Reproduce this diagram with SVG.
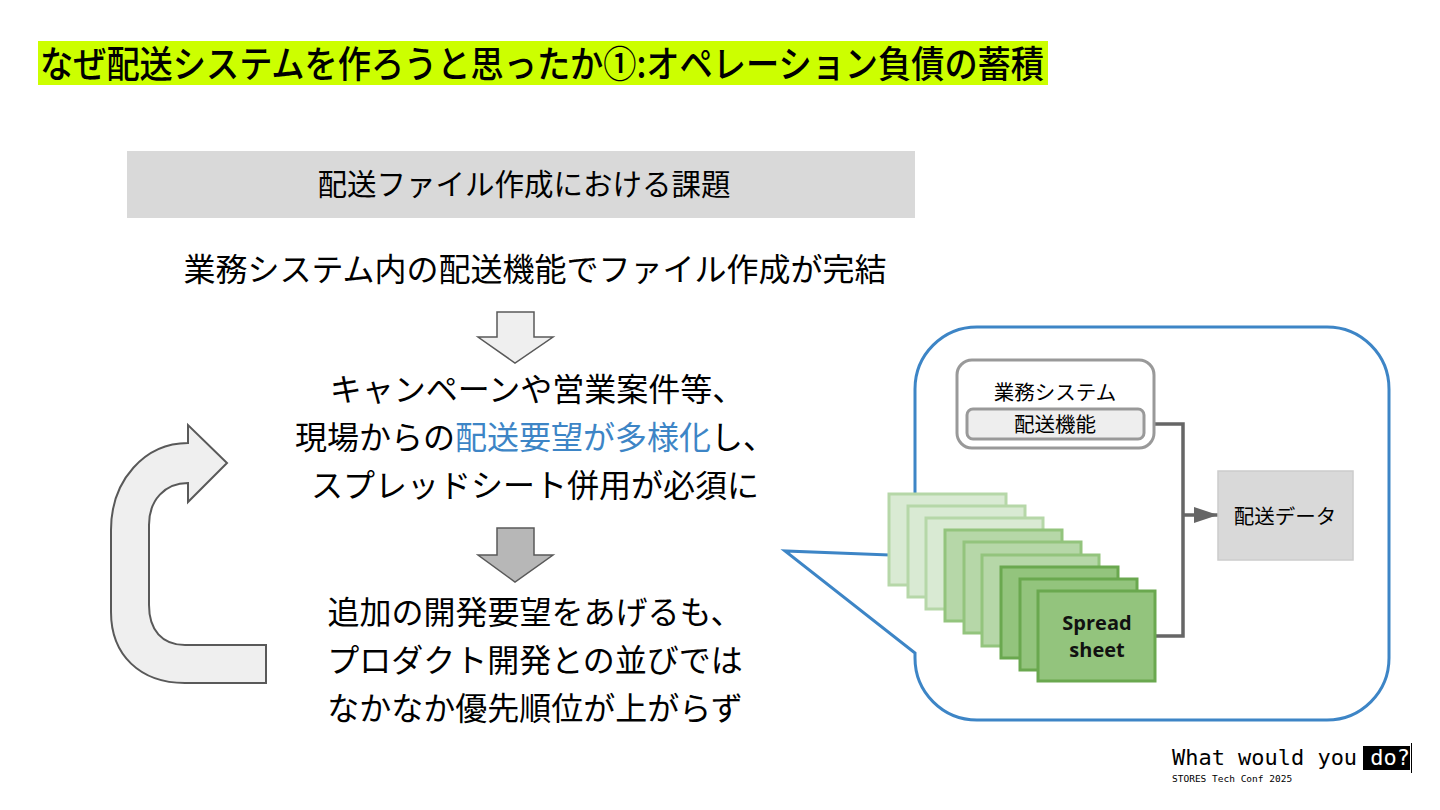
<svg xmlns="http://www.w3.org/2000/svg" width="1440" height="810" viewBox="0 0 1440 810">
<style>
.jp{font-family:"Noto Sans CJK JP","Noto Sans",sans-serif;fill:#000}
.big{font-size:32px;text-anchor:middle}
.sm{font-size:20.5px;text-anchor:middle}
.sheet1{fill:#d9ead3;stroke:#b6d7a8;stroke-width:3}
.sheet2{fill:#b6d7a8;stroke:#93c47d;stroke-width:3}
.sheet3{fill:#93c47d;stroke:#6aa84f;stroke-width:3}
.conn{fill:none;stroke:#666;stroke-width:3.5}
.mono{font-family:"DejaVu Sans Mono","Liberation Mono",monospace}
</style>
<defs>
<marker id="ah" viewBox="0 0 24 16" refX="24" refY="8" markerWidth="24" markerHeight="16" markerUnits="userSpaceOnUse" orient="auto">
<path d="M0,0 L24,8 L0,16 Z" fill="#666"/>
</marker>
</defs>
<rect width="1440" height="810" fill="#fff"/>

<g id="title">
<rect x="38" y="41" width="1010" height="44" fill="#ccff00"/>
<text class="jp" x="40" y="78" font-size="37" font-weight="500" textLength="1004" lengthAdjust="spacingAndGlyphs">なぜ配送システムを作ろうと思ったか①:オペレーション負債の蓄積</text>
</g>

<g id="header">
<rect x="127" y="151" width="788" height="67" fill="#d9d9d9"/>
<text class="jp" x="524" y="195" font-size="29.5" text-anchor="middle">配送ファイル作成における課題</text>
</g>

<g id="line1">
<text class="jp big" x="535" y="281">業務システム内の配送機能でファイル作成が完結</text>
</g>

<g id="arrow1">
<path d="M497,312 L534,312 L534,337 L553,337 L515,363 L478,337 L497,337 Z" fill="#efefef" stroke="#595959" stroke-width="1.5"/>
</g>

<g id="block2">
<text class="jp big" x="537" y="401">キャンペーンや営業案件等、</text>
<text class="jp big" x="535" y="449">現場からの<tspan fill="#3d85c6">配送要望が多様化</tspan>し、</text>
<text class="jp big" x="535" y="497">スプレッドシート併用が必須に</text>
</g>

<g id="arrow2">
<path d="M497,528 L534,528 L534,555 L553,555 L515,582 L478,555 L497,555 Z" fill="#b7b7b7" stroke="#595959" stroke-width="1.5"/>
</g>

<g id="block3">
<text class="jp big" x="535" y="624">追加の開発要望をあげるも、</text>
<text class="jp big" x="535" y="672">プロダクト開発との並びでは</text>
<text class="jp big" x="535" y="720">なかなか優先順位が上がらず</text>
</g>

<g id="loop-arrow">
<path d="M266,645 L266,683 L185,683 C140,683 111,655 111,612 L111,530 C111,480 145,443 188,443 L188,425 L227,463 L188,502 L188,483 C165,483 149,500 149,525 L149,605 C149,630 162,645 185,645 Z" fill="#efefef" stroke="#595959" stroke-width="2"/>
</g>

<g id="callout">
<path d="M977,327 L1327,327 A62,62 0 0 1 1389,389 L1389,658 A62,62 0 0 1 1327,720 L977,720 A62,62 0 0 1 915,658 L915,653 L785,551 L915,556 L915,389 A62,62 0 0 1 977,327 Z" fill="#fff" stroke="#3d85c6" stroke-width="3"/>
</g>

<g id="connectors">
<path class="conn" d="M1144,424 L1183,424 L1183,636 L1155,636"/>
<path class="conn" d="M1183,515 L1218,515" marker-end="url(#ah)"/>
</g>

<g id="system">
<rect x="957" y="360" width="197" height="88" rx="15" fill="#fff" stroke="#999" stroke-width="3"/>
<text class="jp sm" x="1055" y="400">業務システム</text>
</g>
<g id="haiso-kino">
<rect x="967" y="409" width="177" height="30" rx="6" fill="#eee" stroke="#999" stroke-width="3"/>
<text class="jp sm" x="1055" y="432">配送機能</text>
</g>

<g id="haiso-data">
<rect x="1218" y="471" width="135" height="89" fill="#d9d9d9" stroke="#ccc" stroke-width="1.5"/>
<text class="jp sm" x="1285" y="524">配送データ</text>
</g>

<g id="sheets">
<rect class="sheet1" x="889" y="494" width="117" height="91"/>
<rect class="sheet1" x="908" y="506" width="117" height="91"/>
<rect class="sheet1" x="926" y="518" width="117" height="91"/>
<rect class="sheet2" x="945" y="530" width="117" height="91"/>
<rect class="sheet2" x="964" y="542" width="117" height="91"/>
<rect class="sheet2" x="982" y="555" width="117" height="91"/>
<rect class="sheet3" x="1001" y="567" width="117" height="91"/>
<rect class="sheet3" x="1020" y="579" width="117" height="91"/>
<rect class="sheet3" x="1038" y="591" width="117" height="90"/>
<text font-family="'Open Sans','Noto Sans',sans-serif" font-weight="bold" font-size="20" text-anchor="middle" fill="#111"><tspan x="1097" y="630">Spread</tspan><tspan x="1097" y="657">sheet</tspan></text>
</g>

<g id="footer">
<rect x="1363" y="746" width="47" height="24" fill="#000"/>
<text class="mono" x="1172" y="765" font-size="22" fill="#000" textLength="238" lengthAdjust="spacingAndGlyphs">What would you <tspan fill="#fff">do?</tspan></text>
<line x1="1411.5" y1="743" x2="1411.5" y2="773" stroke="#000" stroke-width="1"/>
<text class="mono" x="1172" y="782" font-size="9.5" fill="#000">STORES Tech Conf 2025</text>
</g>
</svg>
